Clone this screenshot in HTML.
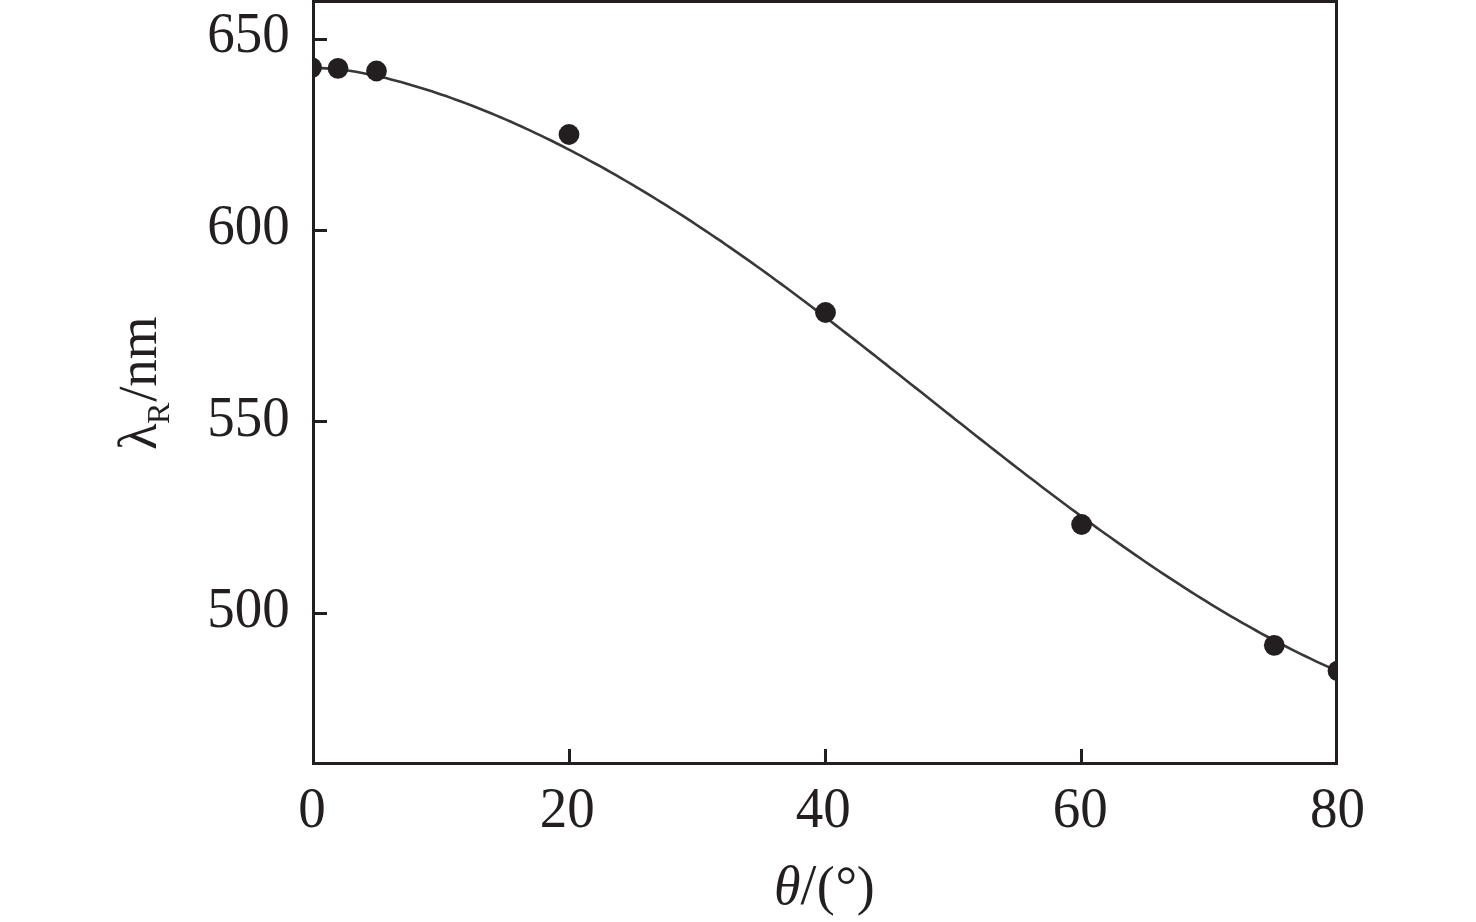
<!DOCTYPE html>
<html><head><meta charset="utf-8">
<style>
html,body{margin:0;padding:0;background:#fff;}
body{width:1476px;height:922px;overflow:hidden;}
svg{display:block;will-change:transform;}
text{font-family:"Liberation Serif",serif;fill:#231f20;}
</style></head><body>
<svg width="1476" height="922" viewBox="0 0 1476 922">
<defs><clipPath id="pa"><rect x="313.5" y="1.5" width="1023" height="762"/></clipPath></defs>
<g clip-path="url(#pa)">
<path d="M306.0,68.0 L311.0,68.0 L316.0,68.0 L321.0,68.1 L326.0,68.4 L331.0,68.7 L336.0,69.2 L341.0,69.7 L346.0,70.3 L351.0,71.0 L356.0,71.8 L361.0,72.7 L366.0,73.7 L371.0,74.7 L376.0,75.8 L381.0,76.9 L386.0,78.1 L391.0,79.4 L396.0,80.7 L401.0,82.0 L406.0,83.4 L411.0,84.9 L416.0,86.4 L421.0,87.9 L426.0,89.5 L431.0,91.1 L436.0,92.7 L441.0,94.4 L446.0,96.1 L451.0,97.9 L456.0,99.7 L461.0,101.5 L466.0,103.4 L471.0,105.3 L476.0,107.2 L481.0,109.2 L486.0,111.2 L491.0,113.3 L496.0,115.4 L501.0,117.5 L506.0,119.6 L511.0,121.8 L516.0,124.1 L521.0,126.3 L526.0,128.6 L531.0,130.9 L536.0,133.3 L541.0,135.7 L546.0,138.1 L551.0,140.5 L556.0,143.0 L561.0,145.5 L566.0,148.1 L571.0,150.6 L576.0,153.3 L581.0,155.9 L586.0,158.6 L591.0,161.3 L596.0,164.0 L601.0,166.7 L606.0,169.5 L611.0,172.4 L616.0,175.2 L621.0,178.1 L626.0,181.0 L631.0,183.9 L636.0,186.9 L641.0,189.8 L646.0,192.9 L651.0,195.9 L656.0,199.0 L661.0,202.1 L666.0,205.2 L671.0,208.3 L676.0,211.5 L681.0,214.7 L686.0,217.9 L691.0,221.2 L696.0,224.5 L701.0,227.8 L706.0,231.1 L711.0,234.5 L716.0,237.8 L721.0,241.2 L726.0,244.7 L731.0,248.1 L736.0,251.6 L741.0,255.1 L746.0,258.6 L751.0,262.1 L756.0,265.7 L761.0,269.3 L766.0,272.9 L771.0,276.5 L776.0,280.2 L781.0,283.9 L786.0,287.5 L791.0,291.3 L796.0,295.0 L801.0,298.7 L806.0,302.5 L811.0,306.3 L816.0,310.1 L821.0,313.9 L826.0,317.7 L831.0,321.5 L836.0,325.4 L841.0,329.2 L846.0,333.1 L851.0,337.0 L856.0,340.9 L861.0,344.8 L866.0,348.7 L871.0,352.6 L876.0,356.5 L881.0,360.5 L886.0,364.4 L891.0,368.4 L896.0,372.3 L901.0,376.3 L906.0,380.2 L911.0,384.2 L916.0,388.1 L921.0,392.1 L926.0,396.1 L931.0,400.1 L936.0,404.0 L941.0,408.0 L946.0,412.0 L951.0,415.9 L956.0,419.9 L961.0,423.8 L966.0,427.8 L971.0,431.7 L976.0,435.7 L981.0,439.6 L986.0,443.6 L991.0,447.5 L996.0,451.4 L1001.0,455.3 L1006.0,459.2 L1011.0,463.1 L1016.0,467.0 L1021.0,470.8 L1026.0,474.7 L1031.0,478.5 L1036.0,482.3 L1041.0,486.2 L1046.0,490.0 L1051.0,493.7 L1056.0,497.5 L1061.0,501.3 L1066.0,505.0 L1071.0,508.7 L1076.0,512.4 L1081.0,516.1 L1086.0,519.8 L1091.0,523.4 L1096.0,527.1 L1101.0,530.7 L1106.0,534.3 L1111.0,537.8 L1116.0,541.4 L1121.0,544.9 L1126.0,548.4 L1131.0,551.9 L1136.0,555.3 L1141.0,558.8 L1146.0,562.2 L1151.0,565.6 L1156.0,569.0 L1161.0,572.3 L1166.0,575.6 L1171.0,578.9 L1176.0,582.2 L1181.0,585.4 L1186.0,588.6 L1191.0,591.8 L1196.0,595.0 L1201.0,598.1 L1206.0,601.2 L1211.0,604.3 L1216.0,607.3 L1221.0,610.3 L1226.0,613.3 L1231.0,616.3 L1236.0,619.2 L1241.0,622.1 L1246.0,624.9 L1251.0,627.7 L1256.0,630.5 L1261.0,633.3 L1266.0,636.0 L1271.0,638.7 L1276.0,641.3 L1281.0,644.0 L1286.0,646.5 L1291.0,649.1 L1296.0,651.6 L1301.0,654.1 L1306.0,656.5 L1311.0,658.9 L1316.0,661.3 L1321.0,663.6 L1326.0,665.9 L1331.0,668.1 L1336.0,670.3 L1341.0,672.5" fill="none" stroke="#393738" stroke-width="2.6" stroke-linejoin="round"/>
<g fill="#231f20">
<circle cx="311.5" cy="67.6" r="10.4"/>
<circle cx="338" cy="68.3" r="10.4"/>
<circle cx="376.5" cy="71" r="10.4"/>
<circle cx="569" cy="134.5" r="10.4"/>
<circle cx="825.5" cy="312.5" r="10.4"/>
<circle cx="1081.6" cy="524.5" r="10.4"/>
<circle cx="1274.3" cy="645.3" r="10.4"/>
<circle cx="1338" cy="670.8" r="10.4"/>
</g>
</g>
<g stroke="#231f20" stroke-width="3" fill="none">
<rect x="313.5" y="1.5" width="1023" height="762"/>
<path d="M315,39.5H327 M315,230.5H327 M315,421.5H327 M315,613.5H327 M569.5,762V749 M825.5,762V749 M1081.5,762V749"/>
</g>
<g font-size="55" text-anchor="end">
<text transform="translate(289.7,51.7) scale(1,1.03)" x="0" y="0">650</text>
<text transform="translate(289.7,243.7) scale(1,1.03)" x="0" y="0">600</text>
<text transform="translate(289.7,435.7) scale(1,1.03)" x="0" y="0">550</text>
<text transform="translate(289.7,626.7) scale(1,1.03)" x="0" y="0">500</text>
</g>
<g font-size="55" text-anchor="middle">
<text transform="translate(311.9,826.7) scale(1,1.03)" x="0" y="0">0</text>
<text transform="translate(567.2,826.7) scale(1,1.03)" x="0" y="0">20</text>
<text transform="translate(823.2,826.7) scale(1,1.03)" x="0" y="0">40</text>
<text transform="translate(1080.3,826.7) scale(1,1.03)" x="0" y="0">60</text>
<text transform="translate(1337.4,826.7) scale(1,1.03)" x="0" y="0">80</text>
</g>
<g transform="translate(156.3,450) rotate(-90)" font-size="55" style="text-rendering:geometricPrecision">
<text x="0" y="0">λ</text>
<text x="26" y="12.2" font-size="32">R</text>
<text x="48.3" y="0">/</text>
<text x="63.3" y="0">nm</text>
</g>
<g font-size="54">
<text x="774" y="903.8" font-style="italic">θ</text>
<text x="800.6" y="904" font-size="57">/</text>
<text x="816.7" y="903.8">(</text>
<text x="835.4" y="903.8">°</text>
<text x="856.7" y="903.8">)</text>
</g>
</svg>
</body></html>
